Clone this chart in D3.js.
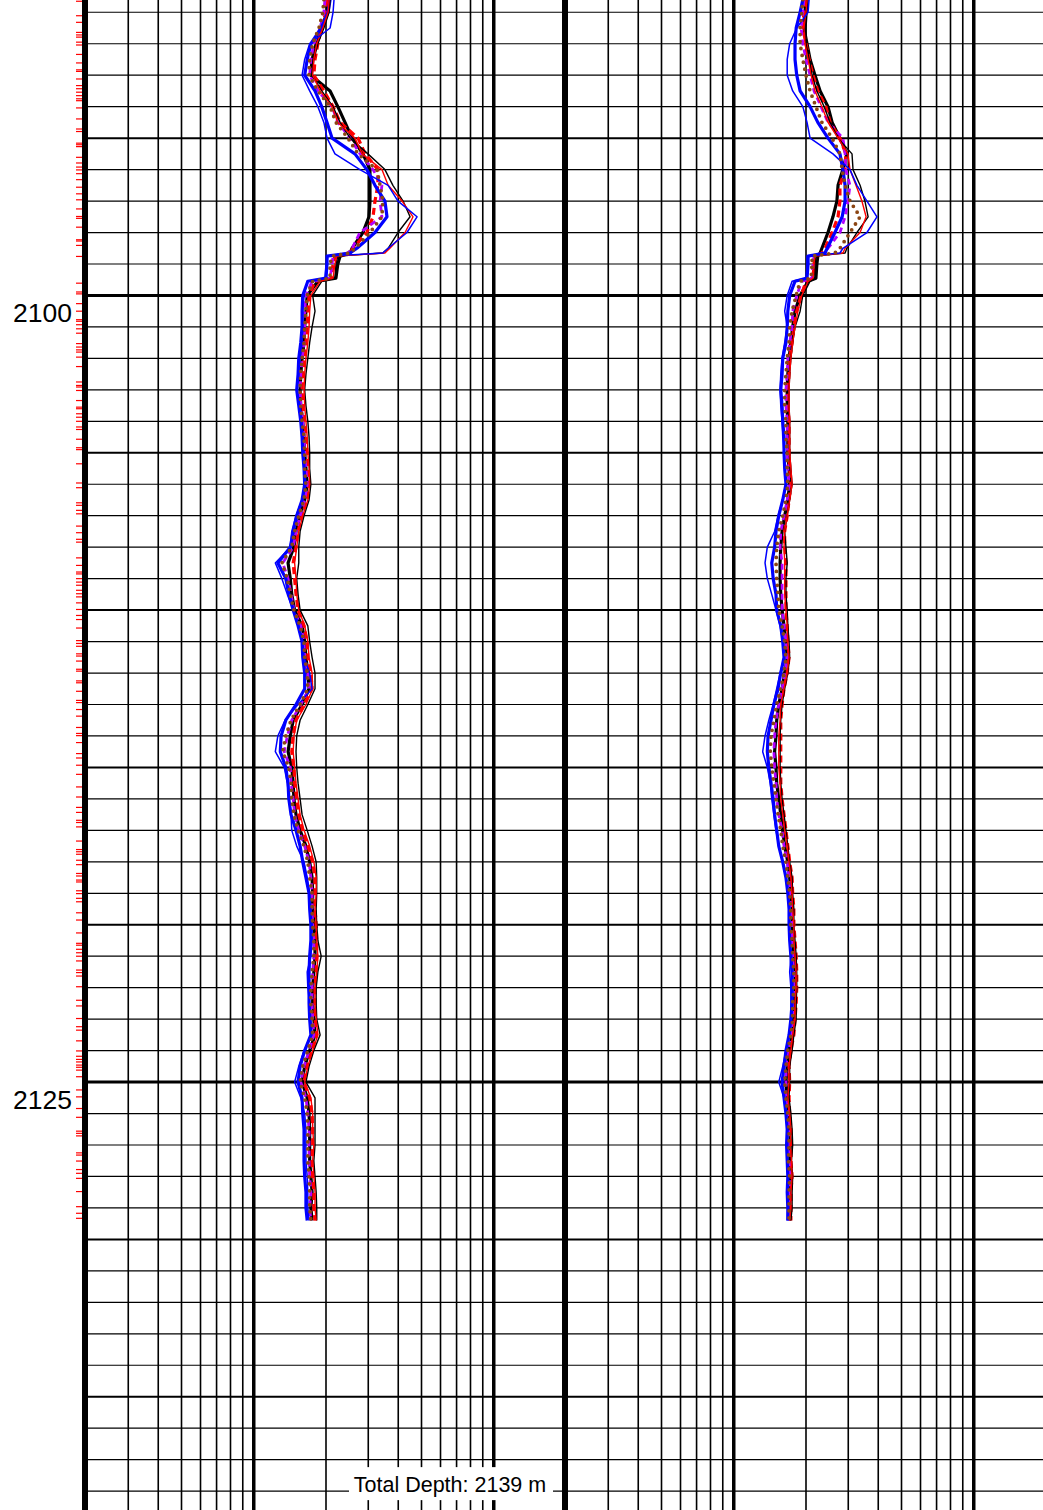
<!DOCTYPE html>
<html>
<head>
<meta charset="utf-8">
<script src="https://cdn.jsdelivr.net/npm/d3@7"></script>
<style>
  body { margin: 0; background: #fff; }
  svg { display: block; }
  text { font-family: "Liberation Sans", Arial, sans-serif; fill: #000; }
</style>
</head>
<body>
<div id="log"></div>
<script>
var width = 1043;
var height = 1510;

// depth samples shared by every curve (m)
var depths = [2090.6, 2091.0, 2091.5, 2092.0, 2092.5, 2093.0, 2093.5, 2094.0, 2094.5, 2095.0,
  2095.5, 2096.0, 2096.5, 2097.0, 2097.5, 2098.0, 2098.5, 2098.65, 2098.75, 2099.0,
  2099.45, 2099.55, 2100.0, 2100.5, 2101.0, 2101.5, 2102.0, 2102.5, 2103.0, 2103.5,
  2104.0, 2104.5, 2105.0, 2105.5, 2106.0, 2106.5, 2107.0, 2107.5, 2108.0, 2108.5,
  2109.0, 2109.5, 2110.0, 2110.5, 2111.0, 2111.5, 2112.0, 2112.5, 2113.0, 2113.5,
  2114.0, 2114.5, 2115.0, 2115.5, 2116.0, 2116.5, 2117.0, 2117.5, 2118.0, 2118.5,
  2119.0, 2119.5, 2120.0, 2120.5, 2121.0, 2121.5, 2122.0, 2122.5, 2123.0, 2123.5,
  2124.0, 2124.5, 2125.0, 2125.5, 2126.0, 2126.5, 2127.0, 2127.5, 2128.0, 2128.5, 2129.0, 2129.4];

// track 1 curves (ohm.m)
var t1BlackThick = [2.04, 2.02, 1.92, 1.82, 1.75, 1.73, 2.08, 2.24, 2.40, 2.57,
  2.85, 3.05, 3.05, 3.05, 3.02, 2.85, 2.57, 2.52, 2.29, 2.24,
  2.20, 1.85, 1.67, 1.65, 1.63, 1.62, 1.59, 1.57, 1.56, 1.57,
  1.60, 1.62, 1.63, 1.65, 1.67, 1.63, 1.56, 1.50, 1.47, 1.39,
  1.42, 1.44, 1.48, 1.59, 1.63, 1.65, 1.68, 1.70, 1.59, 1.46,
  1.42, 1.39, 1.44, 1.46, 1.47, 1.50, 1.56, 1.65, 1.71, 1.75,
  1.76, 1.76, 1.78, 1.80, 1.80, 1.78, 1.76, 1.76, 1.78, 1.80,
  1.71, 1.63, 1.59, 1.67, 1.70, 1.71, 1.71, 1.71, 1.73, 1.75, 1.73, 1.75];
var t1BlackThin = [2.08, 2.06, 1.96, 1.85, 1.78, 1.75, 1.92, 2.14, 2.29, 2.52,
  2.99, 3.52, 3.80, 4.19, 4.48, 3.99, 3.63, 3.45, 2.24, 2.20,
  2.18, 1.92, 1.76, 1.80, 1.75, 1.71, 1.68, 1.65, 1.63, 1.65,
  1.68, 1.70, 1.71, 1.71, 1.73, 1.70, 1.62, 1.56, 1.54, 1.54,
  1.51, 1.53, 1.56, 1.68, 1.71, 1.75, 1.80, 1.80, 1.68, 1.56,
  1.51, 1.50, 1.51, 1.53, 1.56, 1.59, 1.67, 1.75, 1.82, 1.83,
  1.83, 1.82, 1.83, 1.85, 1.91, 1.85, 1.82, 1.82, 1.83, 1.89,
  1.78, 1.70, 1.65, 1.80, 1.80, 1.80, 1.80, 1.78, 1.80, 1.82, 1.83, 1.83];
var t1RedDash = [2.02, 2.00, 1.91, 1.85, 1.80, 1.78, 1.96, 2.14, 2.29, 2.72,
  2.91, 3.29, 3.29, 3.20, 3.14, 2.96, 2.59, 2.52, 2.18, 2.14,
  2.10, 1.80, 1.70, 1.68, 1.67, 1.65, 1.62, 1.60, 1.59, 1.60,
  1.63, 1.65, 1.67, 1.68, 1.70, 1.67, 1.59, 1.53, 1.50, 1.46,
  1.48, 1.50, 1.53, 1.62, 1.67, 1.68, 1.73, 1.75, 1.62, 1.50,
  1.46, 1.44, 1.47, 1.48, 1.51, 1.54, 1.60, 1.68, 1.76, 1.80,
  1.80, 1.80, 1.82, 1.83, 1.83, 1.82, 1.80, 1.80, 1.80, 1.83,
  1.75, 1.67, 1.62, 1.71, 1.75, 1.76, 1.76, 1.75, 1.76, 1.78, 1.78, 1.80];
var t1RedThin = [2.06, 2.04, 1.94, 1.83, 1.78, 1.76, 1.89, 2.12, 2.24, 2.64,
  2.83, 3.42, 3.63, 4.15, 4.61, 4.27, 3.69, 3.52, 2.22, 2.18,
  2.14, 1.89, 1.73, 1.71, 1.70, 1.68, 1.65, 1.63, 1.62, 1.63,
  1.65, 1.67, 1.68, 1.70, 1.71, 1.68, 1.60, 1.54, 1.51, 1.48,
  1.50, 1.51, 1.54, 1.63, 1.68, 1.70, 1.75, 1.76, 1.65, 1.51,
  1.47, 1.46, 1.48, 1.50, 1.53, 1.56, 1.62, 1.71, 1.78, 1.82,
  1.82, 1.80, 1.82, 1.83, 1.85, 1.83, 1.80, 1.80, 1.82, 1.85,
  1.76, 1.68, 1.63, 1.73, 1.76, 1.76, 1.78, 1.76, 1.78, 1.80, 1.80, 1.82];
var t1Magenta = [1.98, 1.96, 1.89, 1.78, 1.73, 1.71, 1.85, 2.12, 2.24, 2.52,
  2.77, 3.14, 3.42, 3.36, 3.42, 2.77, 2.57, 2.47, 2.14, 2.12,
  2.08, 1.75, 1.65, 1.63, 1.63, 1.62, 1.59, 1.57, 1.56, 1.57,
  1.60, 1.62, 1.63, 1.65, 1.67, 1.63, 1.56, 1.50, 1.46, 1.32,
  1.39, 1.43, 1.47, 1.57, 1.62, 1.63, 1.68, 1.70, 1.57, 1.44,
  1.38, 1.34, 1.42, 1.43, 1.46, 1.48, 1.54, 1.63, 1.70, 1.73,
  1.75, 1.75, 1.76, 1.78, 1.78, 1.76, 1.75, 1.75, 1.76, 1.78,
  1.70, 1.62, 1.57, 1.65, 1.68, 1.70, 1.70, 1.70, 1.71, 1.73, 1.71, 1.73];
var t1BrownDots = [1.96, 1.94, 1.87, 1.76, 1.71, 1.70, 1.85, 2.08, 2.20, 2.47,
  2.72, 3.26, 3.36, 3.45, 3.42, 3.05, 2.64, 2.52, 2.12, 2.08,
  2.08, 1.76, 1.67, 1.65, 1.63, 1.62, 1.59, 1.57, 1.56, 1.57,
  1.59, 1.62, 1.63, 1.63, 1.65, 1.62, 1.54, 1.48, 1.44, 1.31,
  1.38, 1.42, 1.47, 1.56, 1.62, 1.63, 1.67, 1.68, 1.56, 1.43,
  1.36, 1.32, 1.40, 1.43, 1.44, 1.47, 1.53, 1.62, 1.68, 1.71,
  1.75, 1.75, 1.76, 1.78, 1.78, 1.75, 1.73, 1.73, 1.75, 1.76,
  1.68, 1.60, 1.56, 1.63, 1.67, 1.68, 1.68, 1.68, 1.70, 1.71, 1.71, 1.73];
var t1BlueThick = [2.08, 2.04, 1.91, 1.73, 1.67, 1.63, 1.80, 1.92, 2.02, 2.12,
  2.64, 2.96, 3.20, 3.52, 3.59, 3.20, 2.69, 2.52, 2.02, 2.02,
  2.00, 1.68, 1.60, 1.59, 1.59, 1.57, 1.54, 1.53, 1.51, 1.54,
  1.57, 1.59, 1.60, 1.62, 1.63, 1.59, 1.51, 1.46, 1.42, 1.26,
  1.36, 1.40, 1.46, 1.53, 1.59, 1.60, 1.63, 1.63, 1.50, 1.36,
  1.30, 1.29, 1.36, 1.39, 1.40, 1.43, 1.50, 1.56, 1.60, 1.65,
  1.70, 1.71, 1.73, 1.73, 1.71, 1.70, 1.70, 1.70, 1.71, 1.73,
  1.63, 1.56, 1.53, 1.59, 1.60, 1.62, 1.62, 1.62, 1.63, 1.65, 1.65, 1.67];
var t1BlueThin = [2.16, 2.14, 2.08, 1.71, 1.63, 1.59, 1.71, 1.85, 1.96, 2.02,
  2.18, 2.77, 3.63, 3.99, 4.79, 4.35, 3.63, 3.45, 2.04, 2.00,
  1.98, 1.67, 1.62, 1.60, 1.60, 1.59, 1.56, 1.53, 1.51, 1.56,
  1.59, 1.60, 1.62, 1.63, 1.65, 1.59, 1.50, 1.44, 1.42, 1.23,
  1.31, 1.38, 1.46, 1.54, 1.60, 1.62, 1.71, 1.75, 1.53, 1.35,
  1.26, 1.23, 1.34, 1.38, 1.40, 1.43, 1.44, 1.51, 1.62, 1.67,
  1.71, 1.73, 1.75, 1.75, 1.73, 1.67, 1.68, 1.71, 1.73, 1.75,
  1.62, 1.54, 1.48, 1.57, 1.63, 1.65, 1.65, 1.65, 1.67, 1.68, 1.68, 1.70];

// track 2 curves (ohm.m)
var t2BlackThick = [2.00, 1.98, 1.96, 2.02, 2.08, 2.18, 2.29, 2.47, 2.57, 2.77,
  2.96, 2.85, 2.72, 2.69, 2.59, 2.47, 2.33, 2.29, 2.24, 2.22,
  2.20, 2.04, 1.89, 1.80, 1.76, 1.73, 1.70, 1.68, 1.67, 1.67,
  1.68, 1.68, 1.68, 1.70, 1.71, 1.68, 1.63, 1.59, 1.57, 1.56,
  1.56, 1.57, 1.59, 1.62, 1.65, 1.67, 1.63, 1.59, 1.54, 1.51,
  1.50, 1.48, 1.50, 1.51, 1.54, 1.57, 1.60, 1.63, 1.68, 1.71,
  1.73, 1.75, 1.75, 1.76, 1.78, 1.80, 1.80, 1.78, 1.78, 1.75,
  1.70, 1.67, 1.65, 1.67, 1.70, 1.71, 1.72, 1.71, 1.73, 1.71, 1.71, 1.71];
var t2BlackThin = [2.04, 2.02, 2.00, 2.00, 2.06, 2.12, 2.22, 2.38, 2.52, 2.72,
  3.11, 3.14, 3.36, 3.52, 3.63, 3.26, 2.96, 2.91, 2.20, 2.18,
  2.18, 2.08, 1.94, 1.89, 1.80, 1.76, 1.73, 1.71, 1.70, 1.70,
  1.71, 1.71, 1.71, 1.73, 1.75, 1.71, 1.67, 1.63, 1.65, 1.67,
  1.65, 1.65, 1.67, 1.68, 1.70, 1.71, 1.68, 1.63, 1.59, 1.57,
  1.56, 1.56, 1.56, 1.57, 1.59, 1.62, 1.65, 1.68, 1.71, 1.75,
  1.76, 1.78, 1.78, 1.80, 1.82, 1.83, 1.83, 1.82, 1.82, 1.78,
  1.75, 1.71, 1.71, 1.70, 1.73, 1.75, 1.76, 1.74, 1.76, 1.75, 1.75, 1.73];
var t2RedDash = [1.98, 1.96, 1.94, 2.00, 2.06, 2.14, 2.24, 2.42, 2.52, 2.77,
  2.93, 2.91, 2.77, 2.77, 2.72, 2.57, 2.40, 2.33, 2.18, 2.16,
  2.14, 2.00, 1.91, 1.83, 1.78, 1.75, 1.71, 1.70, 1.68, 1.68,
  1.70, 1.70, 1.70, 1.71, 1.73, 1.70, 1.67, 1.63, 1.63, 1.65,
  1.65, 1.65, 1.65, 1.67, 1.68, 1.70, 1.67, 1.62, 1.59, 1.57,
  1.57, 1.57, 1.57, 1.57, 1.59, 1.62, 1.65, 1.68, 1.71, 1.75,
  1.76, 1.78, 1.78, 1.80, 1.82, 1.83, 1.83, 1.82, 1.80, 1.78,
  1.73, 1.70, 1.71, 1.70, 1.71, 1.73, 1.74, 1.73, 1.75, 1.73, 1.73, 1.73];
var t2RedThin = [2.02, 2.00, 1.96, 1.98, 2.04, 2.10, 2.18, 2.33, 2.47, 2.72,
  2.99, 3.05, 3.23, 3.42, 3.56, 3.36, 2.91, 2.85, 2.18, 2.16,
  2.14, 2.04, 1.92, 1.85, 1.80, 1.76, 1.73, 1.71, 1.70, 1.70,
  1.71, 1.71, 1.71, 1.73, 1.75, 1.71, 1.67, 1.63, 1.62, 1.63,
  1.63, 1.63, 1.65, 1.67, 1.68, 1.70, 1.67, 1.62, 1.57, 1.56,
  1.54, 1.54, 1.54, 1.56, 1.57, 1.60, 1.63, 1.67, 1.70, 1.73,
  1.75, 1.76, 1.78, 1.78, 1.80, 1.82, 1.82, 1.80, 1.80, 1.76,
  1.73, 1.70, 1.70, 1.68, 1.71, 1.73, 1.72, 1.74, 1.75, 1.73, 1.73, 1.71];
var t2Magenta = [1.96, 1.94, 1.91, 1.94, 2.00, 2.08, 2.16, 2.31, 2.47, 2.85,
  2.91, 2.93, 3.05, 2.99, 2.91, 2.77, 2.47, 2.40, 2.16, 2.14,
  2.12, 1.92, 1.83, 1.76, 1.75, 1.71, 1.68, 1.67, 1.65, 1.65,
  1.67, 1.67, 1.67, 1.68, 1.70, 1.67, 1.62, 1.57, 1.56, 1.59,
  1.59, 1.59, 1.59, 1.62, 1.65, 1.67, 1.63, 1.59, 1.54, 1.50,
  1.48, 1.47, 1.48, 1.50, 1.51, 1.54, 1.59, 1.62, 1.67, 1.70,
  1.71, 1.73, 1.75, 1.75, 1.76, 1.78, 1.78, 1.76, 1.76, 1.73,
  1.68, 1.65, 1.65, 1.65, 1.68, 1.70, 1.69, 1.70, 1.71, 1.70, 1.70, 1.70];
var t2BrownDots = [1.94, 1.92, 1.89, 1.89, 1.94, 2.00, 2.08, 2.20, 2.33, 2.57,
  2.77, 2.83, 2.91, 3.05, 3.36, 3.05, 2.77, 2.64, 2.12, 2.12,
  2.10, 1.89, 1.82, 1.75, 1.71, 1.70, 1.67, 1.65, 1.63, 1.63,
  1.65, 1.65, 1.67, 1.67, 1.68, 1.65, 1.60, 1.54, 1.51, 1.50,
  1.51, 1.53, 1.54, 1.59, 1.63, 1.65, 1.62, 1.57, 1.51, 1.47,
  1.43, 1.42, 1.44, 1.47, 1.50, 1.53, 1.57, 1.60, 1.65, 1.68,
  1.71, 1.73, 1.73, 1.75, 1.76, 1.78, 1.78, 1.76, 1.76, 1.73,
  1.68, 1.65, 1.63, 1.65, 1.68, 1.70, 1.70, 1.69, 1.71, 1.70, 1.70, 1.70];
var t2BlueThick = [1.94, 1.89, 1.82, 1.80, 1.80, 1.83, 1.89, 2.08, 2.24, 2.47,
  2.77, 2.85, 2.91, 2.91, 2.83, 2.64, 2.45, 2.40, 2.04, 2.04,
  2.02, 1.80, 1.71, 1.68, 1.67, 1.65, 1.60, 1.59, 1.57, 1.59,
  1.60, 1.62, 1.62, 1.63, 1.65, 1.60, 1.54, 1.50, 1.48, 1.44,
  1.46, 1.50, 1.51, 1.57, 1.60, 1.62, 1.57, 1.53, 1.47, 1.43,
  1.39, 1.38, 1.40, 1.43, 1.46, 1.48, 1.51, 1.54, 1.60, 1.65,
  1.68, 1.70, 1.70, 1.71, 1.73, 1.75, 1.75, 1.75, 1.73, 1.70,
  1.65, 1.62, 1.59, 1.62, 1.65, 1.67, 1.66, 1.67, 1.68, 1.67, 1.68, 1.68];
var t2BlueThin = [2.06, 2.04, 1.83, 1.71, 1.67, 1.67, 1.76, 1.94, 2.02, 2.08,
  2.59, 3.05, 3.26, 3.59, 3.95, 3.59, 2.85, 2.77, 2.02, 2.02,
  2.00, 1.75, 1.67, 1.63, 1.67, 1.63, 1.59, 1.57, 1.56, 1.57,
  1.59, 1.60, 1.62, 1.63, 1.65, 1.60, 1.53, 1.48, 1.38, 1.35,
  1.38, 1.44, 1.50, 1.56, 1.60, 1.62, 1.56, 1.51, 1.46, 1.40,
  1.35, 1.32, 1.38, 1.42, 1.44, 1.47, 1.50, 1.54, 1.60, 1.65,
  1.68, 1.70, 1.70, 1.71, 1.73, 1.71, 1.73, 1.73, 1.73, 1.70,
  1.65, 1.60, 1.54, 1.62, 1.65, 1.67, 1.68, 1.67, 1.68, 1.67, 1.68, 1.67];

// red marks on the depth track (sample depths, m)
var sampleDepths = [2090.65, 2091.11, 2091.32, 2091.64, 2091.72, 2091.79, 2091.95, 2092.04, 2092.34, 2092.61,
  2092.83, 2092.88, 2093.12, 2093.33, 2093.43, 2093.54, 2093.65, 2093.75, 2093.81, 2094.04,
  2094.39, 2094.71, 2094.79, 2095.16, 2095.21, 2095.27, 2095.61, 2095.79, 2095.92, 2096.01,
  2096.13, 2096.32, 2096.56, 2096.77, 2096.96, 2097.25, 2097.49, 2097.55, 2097.83, 2098.23,
  2098.27, 2098.41, 2098.76, 2099.61, 2099.89, 2099.95, 2100.26, 2100.50, 2100.77, 2100.82,
  2100.93, 2101.06, 2101.20, 2101.53, 2101.64, 2101.73, 2101.80, 2101.96, 2102.26, 2102.75,
  2102.86, 2102.91, 2103.02, 2103.34, 2103.55, 2103.60, 2103.76, 2103.87, 2104.00, 2104.18,
  2104.26, 2104.57, 2104.84, 2104.90, 2105.35, 2105.96, 2106.11, 2106.59, 2106.67, 2106.83,
  2106.94, 2107.33, 2107.54, 2107.75, 2107.84, 2108.34, 2108.58, 2108.79, 2108.85, 2109.00,
  2109.11, 2109.21, 2109.37, 2109.48, 2109.58, 2109.77, 2109.98, 2110.17, 2110.30, 2110.57,
  2110.97, 2111.06, 2111.15, 2111.39, 2111.46, 2111.62, 2111.88, 2111.94, 2112.25, 2112.31,
  2112.58, 2112.87, 2112.94, 2113.16, 2113.37, 2113.73, 2113.92, 2113.99, 2114.21, 2114.56,
  2114.70, 2114.93, 2115.22, 2115.62, 2115.94, 2116.27, 2116.43, 2116.68, 2116.75, 2116.89,
  2117.34, 2117.61, 2117.68, 2117.76, 2117.95, 2118.09, 2118.37, 2118.45, 2118.58, 2118.64,
  2118.92, 2119.01, 2119.16, 2119.27, 2119.62, 2119.85, 2120.26, 2120.59, 2120.65, 2120.78,
  2120.89, 2121.00, 2121.15, 2121.44, 2121.52, 2121.63, 2121.97, 2122.40, 2122.58, 2122.98,
  2123.24, 2123.35, 2123.69, 2124.01, 2124.18, 2124.28, 2124.36, 2124.46, 2124.53, 2124.62,
  2124.83, 2125.25, 2125.47, 2125.84, 2126.12, 2126.56, 2126.63, 2126.71, 2127.25, 2127.32,
  2127.51, 2127.78, 2127.90, 2128.06, 2128.48, 2128.96, 2129.17, 2129.33];

var depthLabels = [2100, 2125];
var totalDepth = 2139;
var viewDepths = [2090.61, 2138.6];
var scaleDomain = [0.2, 20];

// curve styles, drawn in this order
var styles = [
  { key: "blackThick", color: "#000000", w: 3.2, dash: null },
  { key: "redDash",    color: "#ff0000", w: 3.2, dash: "7,4" },
  { key: "magenta",    color: "#b300ff", w: 2.8, dash: "6,4" },
  { key: "blueThick",  color: "#0000ff", w: 3.2, dash: null },
  { key: "blackThin",  color: "#000000", w: 1.4, dash: null },
  { key: "redThin",    color: "#ff0000", w: 1.4, dash: null },
  { key: "blueThin",   color: "#0000ff", w: 1.5, dash: null },
  { key: "brownDots",  color: "#8b4513", w: 3.8, dash: "0,7", round: true }
];

var tracks = [
  { range: [86, 566], curves: { blackThick: t1BlackThick, blackThin: t1BlackThin, redDash: t1RedDash, redThin: t1RedThin,
      magenta: t1Magenta, brownDots: t1BrownDots, blueThick: t1BlueThick, blueThin: t1BlueThin } },
  { range: [566, 1046], curves: { blackThick: t2BlackThick, blackThin: t2BlackThin, redDash: t2RedDash, redThin: t2RedThin,
      magenta: t2Magenta, brownDots: t2BrownDots, blueThick: t2BlueThick, blueThin: t2BlueThin } }
];

var svg = d3.select("#log")
  .append("svg")
  .attr("width", width)
  .attr("height", height)
  .style("background-color", "#fff");

var y = d3.scaleLinear().domain(viewDepths).range([0, height]);

// horizontal depth grid, 1 m / 5 m / 25 m
var gridDepths = d3.range(Math.ceil(viewDepths[0]), Math.floor(viewDepths[1]) + 1);
svg.append("g").selectAll("line")
  .data(gridDepths)
  .enter().append("line")
  .attr("x1", 85).attr("x2", width)
  .attr("y1", function(d) { return y(d); })
  .attr("y2", function(d) { return y(d); })
  .attr("stroke", "#000")
  .attr("stroke-width", function(d) { return d % 25 === 0 ? 3 : (d % 5 === 0 ? 2 : 1.2); });

// log grid for each track
tracks.forEach(function(t) {
  t.x = d3.scaleLog().domain(scaleDomain).range(t.range);
  var ticks = t.x.ticks().filter(function(v) { return v > scaleDomain[0] * 1.001 && v < scaleDomain[1] * 0.999; });
  svg.append("g").selectAll("line")
    .data(ticks)
    .enter().append("line")
    .attr("x1", function(v) { return t.x(v); })
    .attr("x2", function(v) { return t.x(v); })
    .attr("y1", 0).attr("y2", height)
    .attr("stroke", "#000")
    .attr("stroke-width", function(v) {
      var l = Math.log10(v);
      return Math.abs(l - Math.round(l)) < 1e-6 ? 3.5 : 1.6;
    });
});

// track boundary between the two tracks
svg.append("line")
  .attr("x1", tracks[1].range[0] - 1).attr("x2", tracks[1].range[0] - 1)
  .attr("y1", 0).attr("y2", height)
  .attr("stroke", "#000").attr("stroke-width", 6);

// "Total Depth" box hides the grid
var tdY = y(totalDepth - 1);
svg.append("rect")
  .attr("x", 349).attr("y", tdY - 24)
  .attr("width", 204).attr("height", 33)
  .attr("fill", "#fff");
svg.append("text")
  .attr("x", 450).attr("y", tdY + 1)
  .attr("text-anchor", "middle")
  .style("font-size", "21.5px")
  .text("Total Depth: " + totalDepth + " m");

// the curves
tracks.forEach(function(t) {
  styles.forEach(function(s) {
    var pts = d3.zip(depths, t.curves[s.key]);
    var line = d3.line()
      .x(function(p) { return t.x(p[1]); })
      .y(function(p) { return y(p[0]); });
    svg.append("path")
      .datum(pts)
      .attr("d", line)
      .attr("fill", "none")
      .attr("stroke", s.color)
      .attr("stroke-width", s.w)
      .attr("stroke-dasharray", s.dash)
      .attr("stroke-linecap", s.round ? "round" : "butt")
      .attr("stroke-linejoin", "round");
  });
});

// depth track: red sample ticks, axis, labels
svg.append("g").selectAll("line")
  .data(sampleDepths)
  .enter().append("line")
  .attr("x1", 76).attr("x2", 86)
  .attr("y1", function(d) { return y(d); })
  .attr("y2", function(d) { return y(d); })
  .attr("stroke", "#ff0000")
  .attr("stroke-width", 1.2);

svg.append("line")
  .attr("x1", 85).attr("x2", 85)
  .attr("y1", 0).attr("y2", height)
  .attr("stroke", "#000").attr("stroke-width", 6);

svg.append("g").selectAll("text")
  .data(depthLabels)
  .enter().append("text")
  .attr("x", 72)
  .attr("y", function(d) { return y(d) + 27; })
  .attr("text-anchor", "end")
  .style("font-size", "26.5px")
  .text(function(d) { return d; });
</script>
</body>
</html>
